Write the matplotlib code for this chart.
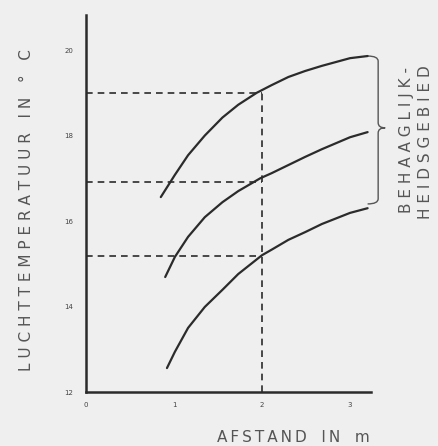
import matplotlib
matplotlib.use("Agg")
import matplotlib.pyplot as plt
from matplotlib.path import Path
from matplotlib.patches import PathPatch

# curves (afstand in m, luchttemperatuur in C)
x_top = [0.85, 1.01, 1.16, 1.35, 1.55, 1.73, 1.94, 2.11, 2.30, 2.49, 2.68, 3.00, 3.20]
y_top = [16.56, 17.08, 17.54, 18.00, 18.42, 18.72, 19.00, 19.18, 19.37, 19.51, 19.63, 19.81, 19.86]
x_mid = [0.90, 1.01, 1.16, 1.35, 1.55, 1.73, 1.98, 2.11, 2.30, 2.49, 2.68, 3.00, 3.20]
y_mid = [14.69, 15.16, 15.63, 16.09, 16.44, 16.70, 17.00, 17.12, 17.31, 17.50, 17.68, 17.96, 18.08]
x_low = [0.92, 1.01, 1.16, 1.35, 1.55, 1.73, 2.00, 2.11, 2.30, 2.49, 2.68, 3.00, 3.20]
y_low = [12.56, 12.94, 13.50, 13.99, 14.39, 14.76, 15.20, 15.33, 15.56, 15.74, 15.93, 16.19, 16.30]

ref_x = 2.0
ref_levels = [19.0, 16.91, 15.18]
xticks = [0, 1, 2, 3]
yticks = [12, 14, 16, 18, 20]

ylabel = 'LUCHTTEMPERATUUR IN \u00b0 C'
xlabel = 'AFSTAND IN m'
zone = ['BEHAAGLIJK-', 'HEIDSGEBIED']

bg = '#efefef'
ink = '#2b2b2b'
grey = '#555555'


def spaced(s, gap=' ', word_gap='   '):
    # old drawing uses wide letter spacing
    return word_gap.join(gap.join(w) for w in s.split(' '))


fig = plt.figure(figsize=(4.38, 4.46), dpi=100, facecolor=bg)
ax = fig.add_axes([86/438, 54/446, 285/438, 377/446], facecolor=bg)

for xs, ys in [(x_top, y_top), (x_mid, y_mid), (x_low, y_low)]:
    ax.plot(xs, ys, color=ink, lw=1.6, solid_capstyle='round', solid_joinstyle='round')

for lv in ref_levels:
    ax.plot([0, ref_x], [lv, lv], color=ink, lw=1.2, ls=(0, (4, 3)))
ax.plot([ref_x, ref_x], [12, max(ref_levels)], color=ink, lw=1.2, ls=(0, (4, 3)))

ax.set_xlim(0, 285/88)
ax.set_ylim(12, 20.82)
ax.set_xticks(xticks)
ax.set_yticks(yticks)
ax.tick_params(length=0, labelsize=5, colors='#444444')
ax.tick_params(axis='x', pad=7)
ax.tick_params(axis='y', pad=9)
for s in ['top', 'right']:
    ax.spines[s].set_visible(False)
for s in ['left', 'bottom']:
    ax.spines[s].set_linewidth(1.8)
    ax.spines[s].set_color(ink)

# brace on the right
hx, bx, tip = x_top[-1], 3.32, 3.40
y1, ym, y0 = y_top[-1], y_mid[-1] + 0.1, y_low[-1] + 0.1
verts = [(hx, y1), (bx, y1), (bx, y1 - 0.12),
         (bx, ym + 0.12), (bx, ym), (tip, ym),
         (bx, ym), (bx, ym - 0.12),
         (bx, y0 + 0.12), (bx, y0), (hx, y0)]
codes = [Path.MOVETO, Path.CURVE3, Path.CURVE3,
         Path.LINETO, Path.CURVE3, Path.CURVE3,
         Path.CURVE3, Path.CURVE3,
         Path.LINETO, Path.CURVE3, Path.CURVE3]
ax.add_patch(PathPatch(Path(verts, codes), fill=False, ec=grey, lw=1.0, clip_on=False))

fig.text(407/438, 1 - 140/446, spaced(zone[0]), rotation=90,
         ha='center', va='center', fontsize=11, color=grey)
fig.text(425/438, 1 - 142/446, spaced(zone[1]), rotation=90,
         ha='center', va='center', fontsize=11, color=grey)
fig.text(27/438, 1 - 210/446, spaced(ylabel, ' ', '   '), rotation=90,
         ha='center', va='center', fontsize=11, color=grey)
fig.text(293/438, 1 - 438/446, spaced(xlabel, '\u2009', '   '), ha='center', va='center',
         fontsize=11, color=grey)

fig.savefig('out.png', dpi=100, facecolor=bg)
